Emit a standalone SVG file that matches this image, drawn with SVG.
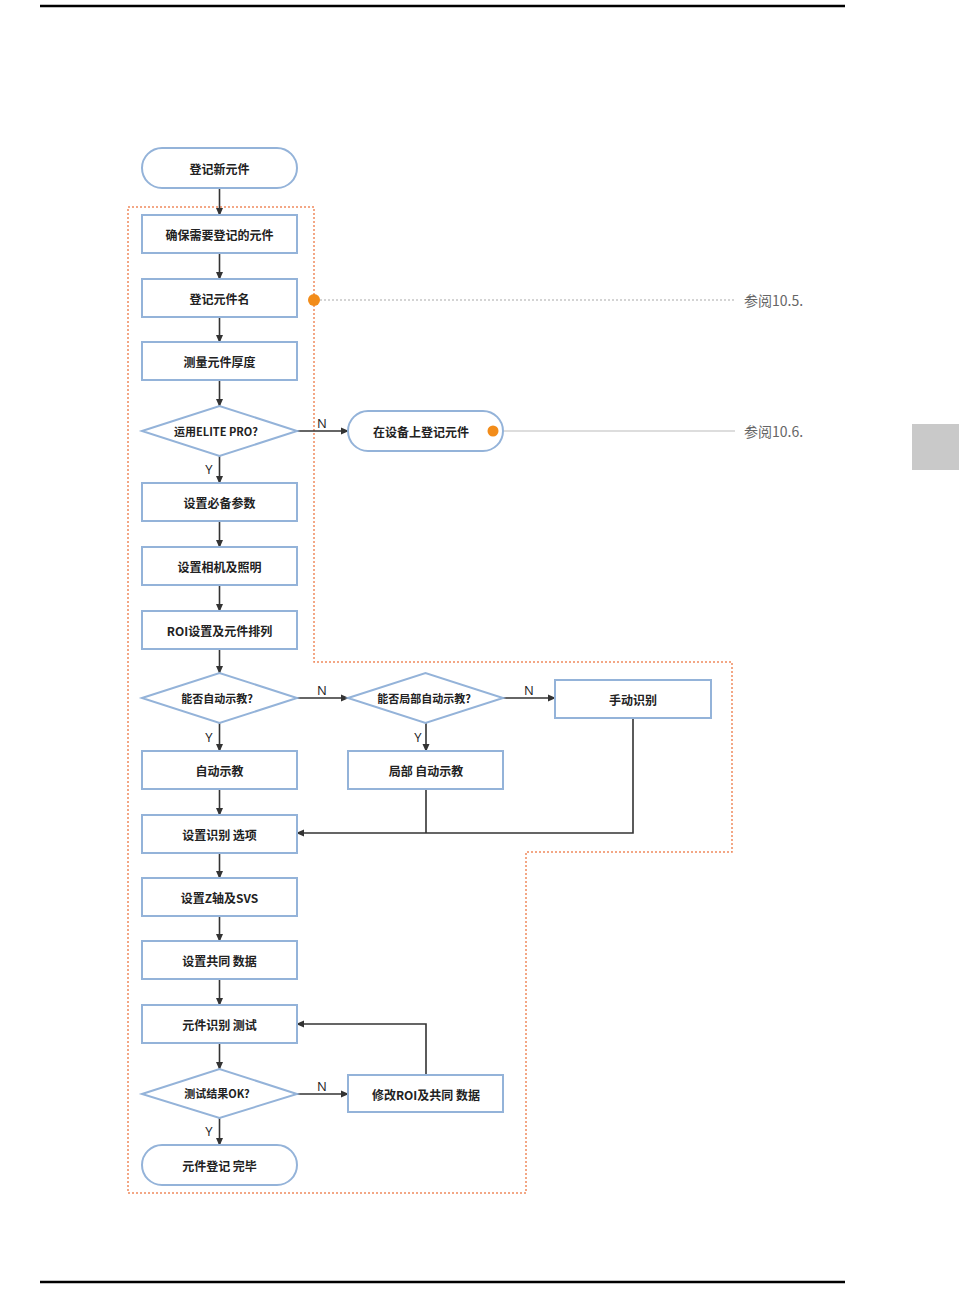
<svg xmlns="http://www.w3.org/2000/svg" width="959" height="1313" viewBox="0 0 959 1313">
<defs>
<marker id="ah" markerWidth="8" markerHeight="8" refX="7" refY="4" orient="auto" markerUnits="userSpaceOnUse">
<path d="M0,0.5 L8,4 L0,7.5 Z" fill="#333"/>
</marker>
<style>
.box{fill:#fff;stroke:#94b3d9;stroke-width:2}
.t{font-family:"Noto Sans CJK SC","Liberation Sans",sans-serif;font-size:12px;font-weight:bold;fill:#222;text-anchor:middle;dominant-baseline:central}
.lbl{font-family:"Open Sans","Liberation Sans",sans-serif;font-size:13px;fill:#222;text-anchor:middle}
.ref{font-family:"Noto Sans CJK SC","Liberation Sans",sans-serif;font-size:14px;fill:#666;dominant-baseline:central}
.c{fill:none;stroke:#333;stroke-width:1.6}
</style>
</defs>
<rect width="959" height="1313" fill="#fff"/>
<line x1="40" y1="6" x2="845" y2="6" stroke="#000" stroke-width="2.5"/>
<line x1="40" y1="1282" x2="845" y2="1282" stroke="#000" stroke-width="2.5"/>
<rect x="912" y="424" width="47" height="46" fill="#c9c9c9"/>
<polygon points="128,207 314,207 314,662 732,662 732,852 526,852 526,1193 128,1193" fill="none" stroke="#f08a5d" stroke-width="1.5" stroke-dasharray="2,2"/>
<g id="refs">
<line x1="320" y1="300" x2="735" y2="300" stroke="#aaa" stroke-width="1.2" stroke-dasharray="2,2"/>
<circle cx="314" cy="300" r="6" fill="#f28c1a"/>
<text class="ref" x="744" y="300">参阅10.5.</text>
<line x1="500" y1="431" x2="735" y2="431" stroke="#bbb" stroke-width="1.2"/>
<text class="ref" x="744" y="431">参阅10.6.</text>
</g>
<g id="connectors">
<line class="c" x1="219.5" y1="188" x2="219.5" y2="215" marker-end="url(#ah)"/>
<line class="c" x1="219.5" y1="253" x2="219.5" y2="279" marker-end="url(#ah)"/>
<line class="c" x1="219.5" y1="317" x2="219.5" y2="342" marker-end="url(#ah)"/>
<line class="c" x1="219.5" y1="380" x2="219.5" y2="406" marker-end="url(#ah)"/>
<line class="c" x1="219.5" y1="456" x2="219.5" y2="483" marker-end="url(#ah)"/>
<line class="c" x1="297" y1="431" x2="348" y2="431" marker-end="url(#ah)"/>
<line class="c" x1="219.5" y1="521" x2="219.5" y2="547" marker-end="url(#ah)"/>
<line class="c" x1="219.5" y1="585" x2="219.5" y2="611" marker-end="url(#ah)"/>
<line class="c" x1="219.5" y1="649" x2="219.5" y2="673" marker-end="url(#ah)"/>
<line class="c" x1="297" y1="698" x2="348" y2="698" marker-end="url(#ah)"/>
<line class="c" x1="503" y1="698" x2="555" y2="698" marker-end="url(#ah)"/>
<line class="c" x1="219.5" y1="723" x2="219.5" y2="751" marker-end="url(#ah)"/>
<line class="c" x1="426" y1="723" x2="426" y2="751" marker-end="url(#ah)"/>
<line class="c" x1="219.5" y1="789" x2="219.5" y2="815" marker-end="url(#ah)"/>
<polyline class="c" points="633,718 633,833 297,833" marker-end="url(#ah)"/>
<line class="c" x1="426" y1="789" x2="426" y2="833"/>
<line class="c" x1="219.5" y1="853" x2="219.5" y2="878" marker-end="url(#ah)"/>
<line class="c" x1="219.5" y1="916" x2="219.5" y2="941" marker-end="url(#ah)"/>
<line class="c" x1="219.5" y1="979" x2="219.5" y2="1005" marker-end="url(#ah)"/>
<line class="c" x1="219.5" y1="1043" x2="219.5" y2="1069" marker-end="url(#ah)"/>
<line class="c" x1="297" y1="1094" x2="348" y2="1094" marker-end="url(#ah)"/>
<polyline class="c" points="426,1075 426,1024 297,1024" marker-end="url(#ah)"/>
<line class="c" x1="219.5" y1="1118" x2="219.5" y2="1145" marker-end="url(#ah)"/>
<text class="lbl" x="322" y="428">N</text>
<text class="lbl" x="322" y="695">N</text>
<text class="lbl" x="529" y="695">N</text>
<text class="lbl" x="322" y="1091">N</text>
<text class="lbl" x="209" y="474">Y</text>
<text class="lbl" x="209" y="742">Y</text>
<text class="lbl" x="418" y="742">Y</text>
<text class="lbl" x="209" y="1136">Y</text>
</g>
<g id="n1"><rect class="box" x="142" y="148" width="155" height="40" rx="20"/><text class="t" x="219.5" y="168">登记新元件</text></g>
<g id="n2"><rect class="box" x="142" y="215" width="155" height="38"/><text class="t" x="219.5" y="234">确保需要登记的元件</text></g>
<g id="n3"><rect class="box" x="142" y="279" width="155" height="38"/><text class="t" x="219.5" y="298">登记元件名</text></g>
<g id="n4"><rect class="box" x="142" y="342" width="155" height="38"/><text class="t" x="219.5" y="361">测量元件厚度</text></g>
<g id="d1"><polygon class="box" points="142,431 219.5,406 297,431 219.5,456"/><text class="t" x="216" y="431" style="font-size:11px">运用ELITE PRO?</text></g>
<g id="n5"><rect class="box" x="348" y="411" width="155" height="40" rx="20"/><text class="t" x="421" y="431">在设备上登记元件</text><circle cx="493" cy="431" r="5.5" fill="#f28c1a"/></g>
<g id="n6"><rect class="box" x="142" y="483" width="155" height="38"/><text class="t" x="219.5" y="502">设置必备参数</text></g>
<g id="n7"><rect class="box" x="142" y="547" width="155" height="38"/><text class="t" x="219.5" y="566">设置相机及照明</text></g>
<g id="n8"><rect class="box" x="142" y="611" width="155" height="38"/><text class="t" x="219.5" y="630">ROI设置及元件排列</text></g>
<g id="d2"><polygon class="box" points="142,698 219.5,673 297,698 219.5,723"/><text class="t" x="217" y="698" style="font-size:11px">能否自动示教?</text></g>
<g id="d3"><polygon class="box" points="348,698 425.5,673 503,698 425.5,723"/><text class="t" x="424" y="698" style="font-size:11px">能否局部自动示教?</text></g>
<g id="n9"><rect class="box" x="555" y="680" width="156" height="38"/><text class="t" x="633" y="699">手动识别</text></g>
<g id="n10"><rect class="box" x="142" y="751" width="155" height="38"/><text class="t" x="219.5" y="770">自动示教</text></g>
<g id="n11"><rect class="box" x="348" y="751" width="155" height="38"/><text class="t" x="426" y="770">局部 自动示教</text></g>
<g id="n12"><rect class="box" x="142" y="815" width="155" height="38"/><text class="t" x="219.5" y="834">设置识别 选项</text></g>
<g id="n13"><rect class="box" x="142" y="878" width="155" height="38"/><text class="t" x="219.5" y="897">设置Z轴及SVS</text></g>
<g id="n14"><rect class="box" x="142" y="941" width="155" height="38"/><text class="t" x="219.5" y="960">设置共同 数据</text></g>
<g id="n15"><rect class="box" x="142" y="1005" width="155" height="38"/><text class="t" x="219.5" y="1024">元件识别 测试</text></g>
<g id="d4"><polygon class="box" points="142,1094 219.5,1069 297,1094 219.5,1118"/><text class="t" x="217" y="1093" style="font-size:11px">测试结果OK?</text></g>
<g id="n16"><rect class="box" x="348" y="1075" width="155" height="37"/><text class="t" x="426" y="1094">修改ROI及共同 数据</text></g>
<g id="n17"><rect class="box" x="142" y="1145" width="155" height="40" rx="20"/><text class="t" x="219.5" y="1165">元件登记 完毕</text></g>
</svg>
